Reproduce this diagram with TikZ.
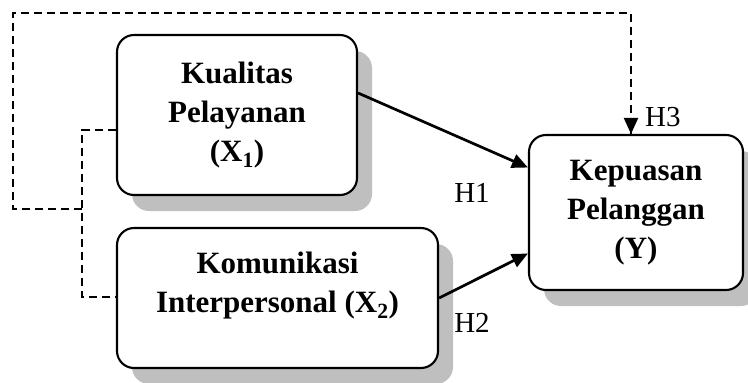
\documentclass[tikz,border=0pt]{standalone}
\usepackage{fontspec}
\setmainfont{Liberation Serif}
\usetikzlibrary{arrows.meta,shadows}
\begin{document}
\begin{tikzpicture}[x=1pt,y=-1pt,
  box/.style={draw=black,line width=2.1pt,rounded corners=17pt,fill=white,
    drop shadow={shadow xshift=15pt,shadow yshift=-16pt,fill=black!25,opacity=1}},
  btxt/.style={align=center,font=\bfseries\fontsize{31}{39}\selectfont,inner sep=0pt},
  htxt/.style={font=\fontsize{29}{34}\selectfont,inner sep=0pt},
  arr/.style={line width=2.7pt,-{Triangle[length=16pt,width=14pt]}},
  dline/.style={line width=2.1pt,dash pattern=on 8pt off 5pt}]
\useasboundingbox (0,0) rectangle (748,383);
% boxes
\node[box,minimum width=240pt,minimum height=160pt] (x1) at (237,115) {};
\node[btxt] (x1t) at (x1.center) {Kualitas\\Pelayanan\\(X\textsubscript{1})};
\node[box,minimum width=321pt,minimum height=140pt] (x2) at (277.5,298) {};
\node[btxt] (x2t) at ([yshift=12pt]x2.center) {Komunikasi\\Interpersonal (X\textsubscript{2})};
\node[box,minimum width=214pt,minimum height=155pt] (y) at (636,212.5) {};
\node[btxt] (yt) at (y.center) {Kepuasan\\Pelanggan\\(Y)};
% solid arrows
\draw[arr] ([yshift=22pt]x1.east) -- ([yshift=45pt]y.west);
\draw[arr] (x2.east) -- ([yshift=-41pt]y.west);
% dashed connectors
\coordinate (ja) at (82,130);
\coordinate (jb) at (82,297);
\coordinate (jm) at (82,209);
\coordinate (o1) at (13,209);
\coordinate (o2) at (13,13);
\coordinate (o3) at (631,13);
\draw[dline] ([yshift=-15pt]x1.west) -- (ja) -- (jb) -- (x2.west |- jb);
\draw[dline] (jm) -- (o1) -- (o2) -- (o3) -- (o3 |- y.north);
\draw[line width=2.1pt,-{Triangle[length=16pt,width=14pt]}] ([yshift=-1pt]o3 |- y.north) ++(0,-14) -- (o3 |- y.north);
% labels
\node[htxt,anchor=west] (h3) at (645,117) {H3};
\node[htxt] (h1) at (472,193) {H1};
\node[htxt] (h2) at (472,323) {H2};
\end{tikzpicture}
\end{document}
